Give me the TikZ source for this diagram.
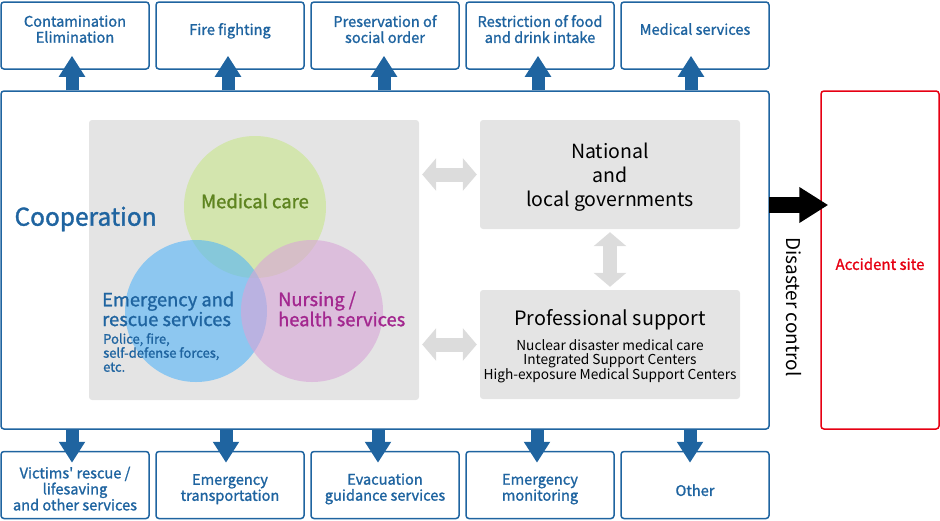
\documentclass[tikz,border=0pt]{standalone}
\usepackage{fontspec}
\setmainfont{Noto Sans CJK JP}
\newfontfamily\semibold[FakeBold=1.3]{Noto Sans CJK JP}
\usetikzlibrary{arrows.meta,positioning}
\definecolor{coopblue}{HTML}{1F64A0}
\definecolor{bggray}{HTML}{E4E4E4}
\definecolor{arrowgray}{HTML}{DCDCDC}
\definecolor{sitered}{HTML}{E60012}
\definecolor{medgreen}{HTML}{C8E68A}
\definecolor{emblue}{HTML}{53B5F8}
\definecolor{nurpink}{HTML}{D8A5D8}
\definecolor{medtext}{HTML}{5E8420}
\definecolor{nurtext}{HTML}{A3278F}
\tikzset{
  taskbox/.style={draw=coopblue,line width=1.5pt,rounded corners=3pt,minimum width=148pt,minimum height=67pt,inner sep=0pt,align=center,text=coopblue,font=\semibold\fontsize{14.6}{16}\selectfont},
  topbox/.style={taskbox,execute at end node={\rule[-13pt]{0pt}{13pt}}},
  botbox/.style={taskbox,text height=35pt},
  graybox/.style={fill=bggray,rounded corners=3pt,inner sep=0pt},
  bluearrow/.style={coopblue,line width=13pt,-{Triangle[length=21pt,width=25pt]}},
  grayarrow/.style={arrowgray,line width=14pt,{Triangle[length=14pt,width=32pt]}-{Triangle[length=14pt,width=32pt]},shorten <=3pt,shorten >=3pt},
  venn/.style={circle,minimum size=142pt,inner sep=0pt,fill opacity=0.6}
}
\begin{document}
\begin{tikzpicture}[x=1pt,y=-1pt]
\useasboundingbox (0,0) rectangle (940,520);

\node[topbox] (t1) at (75,35.5) {Contamination\\Elimination};
\node[topbox] (t2) at (230,35.5) {Fire fighting};
\node[topbox] (t3) at (385,35.5) {Preservation of\\social order};
\node[topbox] (t4) at (540,35.5) {Restriction of food\\and drink intake};
\node[topbox] (t5) at (695,35.5) {Medical services};

\node[botbox,text height=51pt] (b1) at (75,485) {Victims' rescue /\\lifesaving\\and other services};
\node[botbox] (b2) at (230,485) {Emergency\\transportation};
\node[botbox] (b3) at (385,485) {Evacuation\\guidance services};
\node[botbox] (b4) at (540,485) {Emergency\\monitoring};
\node[taskbox,execute at begin node={\rule{0pt}{22pt}}] (b5) at (695,485) {Other};

\node[draw=coopblue,line width=1.5pt,rounded corners=3pt,minimum width=768pt,minimum height=338pt] (coop) at (385,260) {};
\node[draw=sitered,line width=1.5pt,rounded corners=3pt,minimum width=118pt,minimum height=338pt] (site) at (880,260) {};
\node[text=sitered,font=\semibold\fontsize{15}{17}\selectfont] (sitelabel) at (880,264) {Accident site};

\node[graybox,minimum width=330pt,minimum height=280pt] (vennbg) at (254,260) {};
\node[anchor=west,text=coopblue,font=\semibold\fontsize{24.5}{28}\selectfont] (cooplabel) at (11,219) {Cooperation};
\node[venn,fill=medgreen] (medcircle) at (255,207) {};
\node[venn,fill=emblue] (emcircle) at (196,311) {};
\node[venn,fill=nurpink] (nurcircle) at (312,311) {};
\node[text=medtext,font=\semibold\fontsize{18.5}{20}\selectfont] (medlabel) at (255,201) {Medical care};
\node[anchor=west,align=left,text=coopblue,font=\semibold\fontsize{18.3}{18}\selectfont,inner sep=0pt] (emlabel) at (102,309) {Emergency and\\rescue services};
\node[anchor=north west,align=left,text=coopblue,font=\semibold\fontsize{13}{14}\selectfont,inner sep=0pt] (emsub) at (103,333) {Police, fire,\\self-defense forces,\\etc.};
\node[anchor=west,align=left,text=nurtext,font=\semibold\fontsize{18.3}{18}\selectfont,inner sep=0pt] (nurlabel) at (278,309) {Nursing /\\health services};

\node[graybox,minimum width=260pt,minimum height=109pt,align=center,font=\fontsize{19.5}{24}\selectfont,text depth=-4pt] (gov) at (610,174.5) {National\\and\\local governments};
\node[graybox,minimum width=260pt,minimum height=109pt] (prof) at (610,344.5) {};
\node[font=\fontsize{19.8}{22}\selectfont] (proftitle) at (610,320) {Professional support};
\node[align=center,font=\fontsize{13.7}{14}\selectfont,inner sep=0pt] (profsub) at (610,361) {Nuclear disaster medical care\\Integrated Support Centers\\High-exposure Medical Support Centers};

\draw[grayarrow] (vennbg.east |- gov) -- (gov.west);
\draw[grayarrow] (vennbg.east |- prof) -- (prof.west);
\draw[grayarrow] (gov.south) -- (prof.north);

\foreach \n/\dx in {1/-3,2/-2,3/-1,4/-2,5/-4}
  \draw[bluearrow,shorten >=-14pt] ([xshift=\dx pt]t\n.south |- coop.north) -- ([xshift=\dx pt]t\n.south);
\foreach \n/\dx in {1/-3,2/-4,3/-7,4/-3,5/-5}
  \draw[bluearrow,shorten >=-12pt] ([xshift=\dx pt]b\n.north |- coop.south) -- ([xshift=\dx pt]b\n.north);

\coordinate (dcstart) at (769,205);
\draw[black,line width=16pt,-{Triangle[length=29pt,width=34pt]},shorten >=-8pt] (dcstart) -- (site.west |- dcstart);
\node[rotate=-90,font=\fontsize{19}{22}\selectfont] (dclabel) at (794,307) {Disaster control};
\end{tikzpicture}
\end{document}
